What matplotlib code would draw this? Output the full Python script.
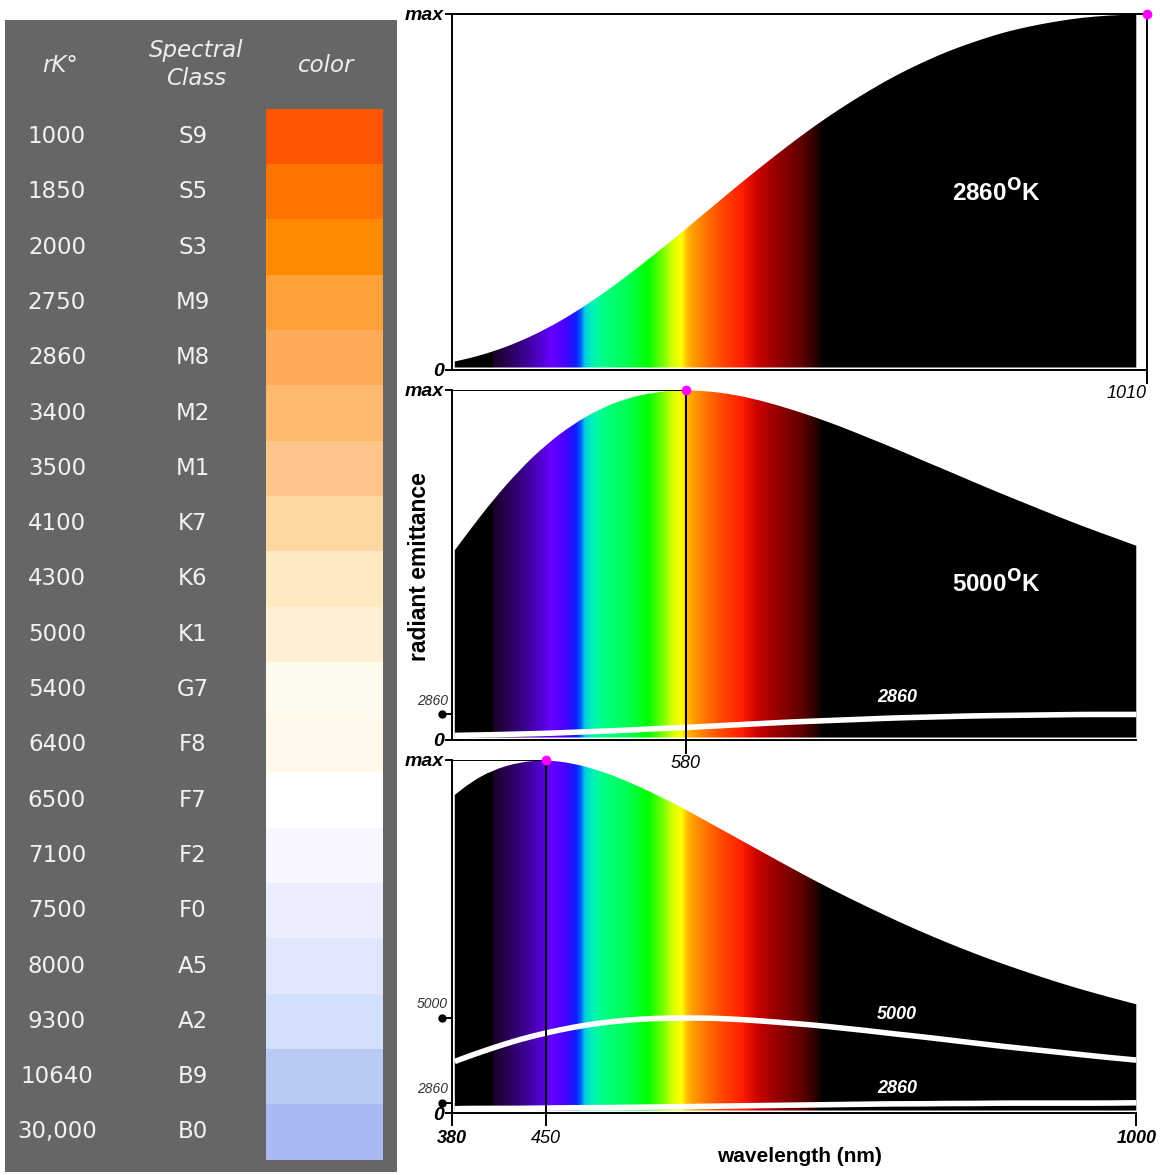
import numpy as np
import matplotlib
matplotlib.use("Agg")
import matplotlib.pyplot as plt
from matplotlib.colors import LinearSegmentedColormap, Normalize
from matplotlib.transforms import blended_transform_factory
from matplotlib.path import Path
from matplotlib.patches import PathPatch

# star table
temps = ["1000", "1850", "2000", "2750", "2860", "3400", "3500", "4100", "4300", "5000",
         "5400", "6400", "6500", "7100", "7500", "8000", "9300", "10640", "30,000"]
classes = ["S9", "S5", "S3", "M9", "M8", "M2", "M1", "K7", "K6", "K1",
           "G7", "F8", "F7", "F2", "F0", "A5", "A2", "B9", "B0"]
star_colors = ["#ff5500", "#ff7400", "#ff8a00", "#ffa038", "#ffaa58", "#ffb96e", "#ffc68c",
               "#ffd7a2", "#ffe9c0", "#fff0d4", "#fffaee", "#fff9ea", "#ffffff", "#f7f8ff",
               "#eceeff", "#e0e6fc", "#d2dffd", "#b9cbf4", "#a9b8f0"]

# curves (fraction of each panel's max)
wavelength = [365, 380, 400, 425, 450, 475, 500, 525, 550, 575, 600, 625, 650, 675,
              700, 725, 750, 775, 800, 825, 850, 875, 900, 925, 950, 975, 1000]
k2860 = [0.024, 0.034, 0.051, 0.079, 0.115, 0.158, 0.208, 0.263, 0.322, 0.383, 0.446,
         0.509, 0.570, 0.629, 0.685, 0.736, 0.783, 0.826, 0.863, 0.896, 0.923, 0.947,
         0.965, 0.979, 0.990, 0.996, 0.999]
k5000 = [0.542, 0.604, 0.683, 0.771, 0.844, 0.902, 0.946, 0.976, 0.993, 1.000, 0.997,
         0.987, 0.970, 0.948, 0.923, 0.895, 0.864, 0.833, 0.800, 0.768, 0.735, 0.703,
         0.672, 0.641, 0.611, 0.583, 0.555]
k2860_in_5000 = [0.013, 0.014, 0.015, 0.017, 0.019, 0.022, 0.025, 0.028, 0.032, 0.035,
                 0.039, 0.043, 0.047, 0.051, 0.054, 0.057, 0.060, 0.063, 0.065, 0.067,
                 0.069, 0.070, 0.071, 0.072, 0.073, 0.073, 0.073]
k6500 = [0.901, 0.937, 0.971, 0.994, 1.000, 0.991, 0.970, 0.941, 0.906, 0.868, 0.826,
         0.784, 0.742, 0.700, 0.659, 0.620, 0.583, 0.547, 0.513, 0.481, 0.451, 0.423,
         0.397, 0.372, 0.349, 0.328, 0.308]
k5000_in_6500 = [0.146, 0.163, 0.184, 0.208, 0.227, 0.243, 0.255, 0.263, 0.268, 0.269,
                 0.269, 0.266, 0.261, 0.255, 0.249, 0.241, 0.233, 0.224, 0.216, 0.207,
                 0.198, 0.189, 0.181, 0.173, 0.165, 0.157, 0.150]
k2860_in_6500 = [0.012, 0.013, 0.013, 0.013, 0.014, 0.015, 0.015, 0.016, 0.017, 0.018,
                 0.019, 0.020, 0.021, 0.022, 0.023, 0.024, 0.025, 0.026, 0.026, 0.027,
                 0.027, 0.028, 0.028, 0.028, 0.028, 0.028, 0.029]
peaks = [1010, 580, 450]

# spectrum colour ramp
spec_nm = [399, 401, 430, 455, 468, 478, 482, 486, 494, 505, 525, 545, 558, 568, 576,
           581, 586, 600, 615, 632, 648, 665, 688, 700, 708]
spec_col = ["#000000", "#1a0028", "#3c0090", "#6400ff", "#4800ff", "#0a20ff", "#0060ff",
            "#00d0e0", "#00f5b0", "#00ff80", "#00ff55", "#00ff00", "#70ff00", "#d8ff00",
            "#ffff00", "#ffc000", "#ffa000", "#ff7000", "#ff4400", "#ff2000", "#c80000",
            "#980000", "#600000", "#300000", "#000000"]

XMIN, XMAX = 362.4, 1010
W, H = 1162, 1175


def box(l, t, r, b):
    return [l / W, 1 - b / H, (r - l) / W, (b - t) / H]


def curve_path(xs, ys, base=None):
    # quadratic bezier through the read points (points act as control points)
    pts = list(zip(xs, ys))
    verts = [pts[0]]
    codes = [Path.MOVETO]
    mids = [((a[0] + b[0]) / 2, (a[1] + b[1]) / 2) for a, b in zip(pts[:-1], pts[1:])]
    verts.append(mids[0])
    codes.append(Path.LINETO)
    for i in range(1, len(pts) - 1):
        verts += [pts[i], mids[i]]
        codes += [Path.CURVE3, Path.CURVE3]
    verts.append(pts[-1])
    codes.append(Path.LINETO)
    if base is not None:
        verts += [(xs[-1], base), (xs[0], base), pts[0]]
        codes += [Path.LINETO, Path.LINETO, Path.CLOSEPOLY]
    return Path(verts, codes)


stops = [(0.0, "#000000")] + [((w - XMIN) / (XMAX - XMIN), c) for w, c in zip(spec_nm, spec_col)] + [(1.0, "#000000")]
spec_cmap = LinearSegmentedColormap.from_list("spectrum", stops, N=1024)
ramp = np.linspace(XMIN, XMAX, 1500)[np.newaxis, :]

fig = plt.figure(figsize=(W / 100, H / 100), dpi=100)
fig.patch.set_facecolor("white")

# ---- left table ----
tab = fig.add_axes(box(5, 20, 397, 1172))
tab.set_facecolor("#666666")
tab.set_xlim(5, 397)
tab.set_ylim(18.725, -2.107)
tab.set_xticks([])
tab.set_yticks([])
for s in tab.spines.values():
    s.set_visible(False)
rows = np.arange(len(temps))
tab.barh(rows, 117, left=266, height=1.0, color=star_colors)
for i in rows:
    tab.text(57, i, temps[i], ha="center", va="center", fontsize=16.5, color="#f2f2f2")
    tab.text(193, i, classes[i], ha="center", va="center", fontsize=16.5, color="#f2f2f2")
hdr = dict(ha="center", va="center", fontsize=16.5, style="italic", color="#eeeeee")
tab.text(60, -1.29, "rK°", **hdr)
tab.text(196, -1.3, "Spectral\nClass", linespacing=1.25, **hdr)
tab.text(326, -1.29, "color", **hdr)

# ---- spectrum panels ----
axis_font = dict(family="Liberation Sans", fontsize=14, fontweight="bold", style="italic")


def spectrum_panel(ax, curve):
    ax.set_facecolor("none")
    im = ax.imshow(ramp, cmap=spec_cmap, norm=Normalize(XMIN, XMAX),
                   extent=(XMIN, XMAX, 0, 1), aspect="auto", interpolation="bilinear")
    im.set_clip_path(curve_path(wavelength, curve, base=0.007), ax.transData)
    ax.set_xlim(XMIN, XMAX)
    ax.set_ylim(0, 1)
    for s in ax.spines.values():
        s.set_linewidth(1.4)
    ax.tick_params(direction="out", width=1.4, length=5, pad=1)
    ax.set_yticks([0, 1])
    ax.set_yticklabels(["0", "max"], **axis_font)


def white_curve(ax, curve):
    ax.add_patch(PathPatch(curve_path(wavelength, curve), fill=False, edgecolor="white",
                           lw=4, capstyle="butt"))


def ref_level(ax, level, label):
    tr = blended_transform_factory(ax.transAxes, ax.transData)
    ax.plot([-0.014, 0], [level, level], color="black", lw=1.4, transform=tr, clip_on=False)
    ax.plot([-0.014], [level], "o", color="black", ms=5, transform=tr, clip_on=False)
    ax.annotate(label, xy=(-0.006, level), xycoords=tr, xytext=(0, 5), textcoords="offset points",
                ha="right", va="bottom", fontsize=10, style="italic", color="#333333",
                family="Liberation Sans")


white_lbl = dict(color="white", fontsize=13, fontweight="bold", style="italic",
                 family="Liberation Sans", ha="center", va="center")
temp_lbl = dict(color="white", fontsize=17.5, fontweight="bold", family="Liberation Sans",
                ha="center", va="center")

# panel 1: 2860 K
ax1 = fig.add_axes(box(452, 14, 1147, 370))
spectrum_panel(ax1, k2860)
ax1.set_xticks([peaks[0]])
ax1.set_xticklabels(["1010"], fontsize=13, style="italic", family="Liberation Sans", ha="right")
ax1.tick_params(axis="x", length=10)
ax1.plot(peaks[0], 1, "o", color="#ff00ff", ms=6, clip_on=False, zorder=10)
ax1.text(0.783, 0.497, r"2860$^\mathbf{O}$K", transform=ax1.transAxes, **temp_lbl)

# panel 2: 5000 K
ax2 = fig.add_axes(box(452, 390, 1147, 740))
spectrum_panel(ax2, k5000)
ax2.spines["top"].set_visible(False)
ax2.spines["right"].set_visible(False)
ax2.spines["bottom"].set_bounds(XMIN, 1000)
white_curve(ax2, k2860_in_5000)
ax2.hlines(1, XMIN, peaks[1], color="black", lw=1.4)
ax2.vlines(peaks[1], 0, 1, color="black", lw=1.4)
ax2.set_xticks([peaks[1]])
ax2.set_xticklabels(["580"], fontsize=13, style="italic", family="Liberation Sans")
ax2.tick_params(axis="x", length=10)
ax2.plot(peaks[1], 1, "o", color="#ff00ff", ms=6, clip_on=False, zorder=10)
ref_level(ax2, max(k2860_in_5000), "2860")
ax2.text(0.64, 0.12, "2860", transform=ax2.transAxes, **white_lbl)
ax2.text(0.783, 0.446, r"5000$^\mathbf{O}$K", transform=ax2.transAxes, **temp_lbl)

# panel 3: 6500 K
ax3 = fig.add_axes(box(452, 760, 1147, 1113))
spectrum_panel(ax3, k6500)
ax3.spines["top"].set_visible(False)
ax3.spines["right"].set_visible(False)
ax3.spines["bottom"].set_bounds(XMIN, 1000)
white_curve(ax3, k5000_in_6500)
white_curve(ax3, k2860_in_6500)
ax3.hlines(1, XMIN, peaks[2], color="black", lw=1.4)
ax3.vlines(peaks[2], 0, 1, color="black", lw=1.4)
ax3.set_xticks([XMIN, peaks[2], 1000])
ax3.set_xticklabels(["380", "450", "1000"], fontsize=13, style="italic", family="Liberation Sans")
for t in (ax3.get_xticklabels()[0], ax3.get_xticklabels()[2]):
    t.set_fontweight("bold")
ax3.tick_params(axis="x", length=9, pad=3)
ax3.plot(peaks[2], 1, "o", color="#ff00ff", ms=6, clip_on=False, zorder=10)
ref_level(ax3, max(k5000_in_6500), "5000")
ref_level(ax3, max(k2860_in_6500), "2860")
ax3.text(0.64, 0.278, "5000", transform=ax3.transAxes, **white_lbl)
ax3.text(0.64, 0.068, "2860", transform=ax3.transAxes, **white_lbl)
ax3.text(0.783, 0.578, r"6500$^\mathbf{O}$K", transform=ax3.transAxes, **temp_lbl)
ax3.set_xlabel("wavelength (nm)", family="Liberation Sans", fontsize=15, fontweight="bold", labelpad=0)

fig.text(420 / W, 1 - 567 / H, "radiant emittance", rotation=90, ha="center", va="center",
         family="Liberation Sans", fontsize=16.5, fontweight="bold")

fig.savefig("out.png", dpi=100, facecolor="white")
